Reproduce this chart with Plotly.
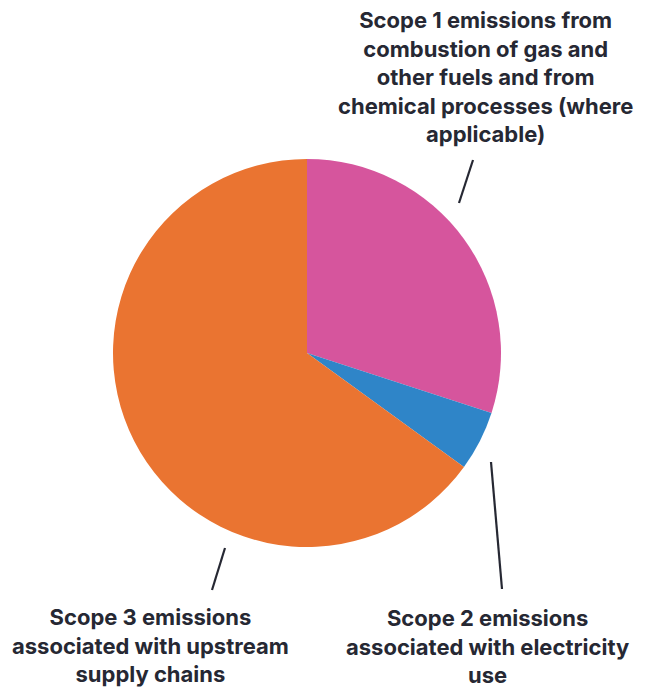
import plotly.graph_objects as go

# Emissions share by scope (%)
categories = [
    "Scope 1 emissions from combustion of gas and other fuels and from chemical processes (where applicable)",
    "Scope 2 emissions associated with electricity use",
    "Scope 3 emissions associated with upstream supply chains",
]
shares = [30, 5, 65]
slice_colors = ["#d6559d", "#2f85c8", "#ea7431"]

label_lines = [
    ["Scope 1 emissions from", "combustion of gas and", "other fuels and from",
     "chemical processes (where", "applicable)"],
    ["Scope 2 emissions", "associated with electricity", "use"],
    ["Scope 3 emissions", "associated with upstream", "supply chains"],
]

W, H = 646, 688
TEXT = "#262833"


def px(x):
    return x / W


def py(y):
    return 1 - y / H


fig = go.Figure(
    go.Pie(
        labels=categories,
        values=shares,
        sort=False,
        direction="clockwise",
        rotation=0,
        marker=dict(colors=slice_colors, line=dict(width=0)),
        textinfo="none",
        hoverinfo="label+percent",
        domain=dict(x=[px(113), px(501)], y=[py(547), py(159)]),
        showlegend=False,
    )
)

# Label blocks (centre x, centre y of first line) and leader lines
label_pos = [(485, 20), (487, 618), (150, 617)]
leaders = [((473, 160), (459, 203)), ((491, 462), (502, 589)), ((225, 548), (212, 590))]

for lines, (cx, cy) in zip(label_lines, label_pos):
    fig.add_annotation(
        x=px(cx), y=py(cy - 15),
        xref="paper", yref="paper",
        xanchor="center", yanchor="top",
        text="<br>".join(lines),
        showarrow=False,
        align="center",
        font=dict(family="Inter", size=22, color=TEXT, weight=700),
    )

for (x0, y0), (x1, y1) in leaders:
    fig.add_shape(
        type="line", xref="paper", yref="paper",
        x0=px(x0), y0=py(y0), x1=px(x1), y1=py(y1),
        line=dict(color=TEXT, width=2.2),
    )

fig.update_layout(
    width=W, height=H,
    margin=dict(l=0, r=0, t=0, b=0),
    paper_bgcolor="white",
    plot_bgcolor="white",
)

fig.write_html("out.html")
